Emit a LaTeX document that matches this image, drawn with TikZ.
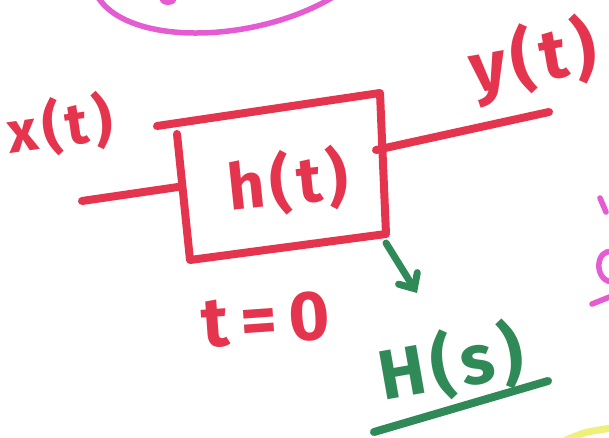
\documentclass[tikz,border=0pt]{standalone}
\usepackage{fontspec}
\setmainfont{Fira Sans}[LetterSpace=9]
\usetikzlibrary{arrows.meta}
\definecolor{markred}{HTML}{E5344E}
\definecolor{markgreen}{HTML}{2F8A57}
\definecolor{markpink}{HTML}{E55BD2}
\definecolor{markyellow}{HTML}{EEF07A}
\tikzset{
  pen/.style={line width=8pt, line cap=round, line join=round},
  redpen/.style={pen, draw=markred},
  greenpen/.style={pen, draw=markgreen},
  pinkpen/.style={pen, draw=markpink, line width=5.5pt},
  lbl/.style={inner sep=0pt, font=\bfseries},
}
\begin{document}
\begin{tikzpicture}[x=1pt,y=-1pt]
  \useasboundingbox (0,0) rectangle (609,438);
  \fill[white] (0,0) rectangle (609,438);

  % pieces of neighbouring sketches on the page
  \draw[pinkpen]
    (96,-6) .. controls (125,48) and (260,44) .. (338,-6);
  \fill[markpink] (168,0) ellipse (8pt and 5pt);
  \draw[pinkpen] (600,198) -- (606,212);
  \draw[pinkpen]
    (612,252) .. controls (596,248) and (593,280) .. (612,282);
  \draw[pinkpen] (592,304) -- (612,296);
  \draw[pen, draw=markyellow, line width=7pt] (566,440) .. controls (585,432) .. (612,428);

  % block corners
  \coordinate (tl) at (157,126);
  \coordinate (tr) at (380,93);
  \coordinate (br) at (386,234);
  \coordinate (bl) at (190,260);
  \coordinate (lt) at (177,134);
  \coordinate (inR) at (178,187);
  \coordinate (inL) at (82,201);
  \coordinate (outL) at (376,150);
  \coordinate (outR) at (549,112);
  \coordinate (arS) at (386,243);
  \coordinate (arE) at (417,293);
  \coordinate (ulL) at (374,432);
  \coordinate (ulR) at (548,381);

  % the block h(t)
  \draw[redpen] (tl) -- (tr) -- (br) -- (bl) -- (lt);
  \node[lbl, text=markred, font=\bfseries\fontsize{64}{68}\selectfont, rotate=6]
    (h) at (288,182) {h(t)};

  % input and output signals
  \draw[redpen] (inL) -- (inR);
  \draw[redpen] (outL) -- (outR);
  \node[lbl, text=markred, font=\bfseries\fontsize{58}{62}\selectfont, rotate=8]
    (x) at (60,126) {x(t)};
  \node[lbl, text=markred, font=\bfseries\fontsize{70}{74}\selectfont, rotate=10]
    (y) at (533,60) {y(t)};

  % initial condition
  \node[lbl, text=markred, font=\bfseries\fontsize{70}{74}\selectfont, rotate=4]
    (t0) at (266,320) {t\,=\,0};

  % transform arrow and H(s)
  \draw[greenpen, line width=7pt, -{Straight Barb[length=12pt,width=22pt,line cap=round]}]
    (arS) -- (arE);
  \node[lbl, text=markgreen, font=\bfseries\fontsize{70}{74}\selectfont, rotate=10]
    (H) at (451,364) {H(s)};
  \draw[greenpen] (ulL) -- (ulR);
\end{tikzpicture}
\end{document}
